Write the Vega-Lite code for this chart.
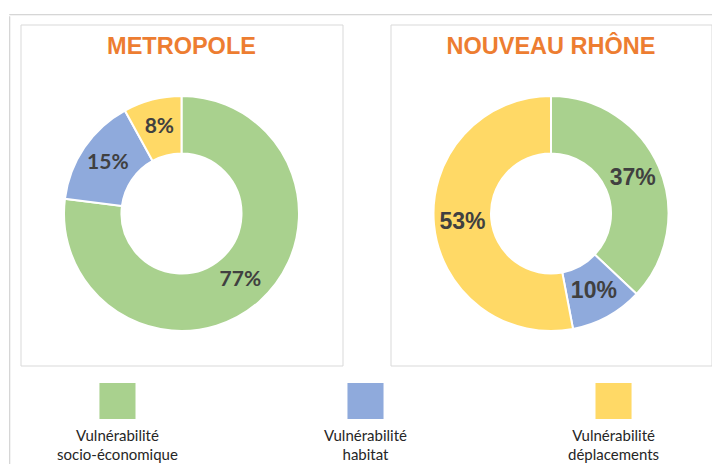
{
  "$schema": "https://vega.github.io/schema/vega-lite/v6.json",
  "padding": {"left": 8, "top": 13, "right": 0, "bottom": 0},
  "background": "white",
  "datasets": {
    "none": [],
    "shares": [
      {"zone": "METROPOLE", "cat": "Vulnérabilité socio-économique", "k": 1, "pct": 0.77},
      {"zone": "METROPOLE", "cat": "Vulnérabilité habitat", "k": 2, "pct": 0.15},
      {"zone": "METROPOLE", "cat": "Vulnérabilité déplacements", "k": 3, "pct": 0.08},
      {"zone": "NOUVEAU RHÔNE", "cat": "Vulnérabilité socio-économique", "k": 1, "pct": 0.37},
      {"zone": "NOUVEAU RHÔNE", "cat": "Vulnérabilité habitat", "k": 2, "pct": 0.10},
      {"zone": "NOUVEAU RHÔNE", "cat": "Vulnérabilité déplacements", "k": 3, "pct": 0.53}
    ],
    "legend": [
      {"cat": "Vulnérabilité socio-économique", "label": "Vulnérabilité\nsocio-économique"},
      {"cat": "Vulnérabilité habitat", "label": "Vulnérabilité\nhabitat"},
      {"cat": "Vulnérabilité déplacements", "label": "Vulnérabilité\ndéplacements"}
    ]
  },
  "spacing": 0,
  "vconcat": [
    {
      "width": 703,
      "height": 0.3,
      "view": {"stroke": "#d6d6d6", "strokeWidth": 1},
      "data": {"name": "none"},
      "mark": "point"
    },
    {
      "spacing": 9.5,
      "hconcat": [
        {
          "width": 0.3,
          "height": 450,
          "view": {"stroke": "#d6d6d6", "strokeWidth": 1},
          "data": {"name": "none"},
          "mark": "point"
        },
        {
          "spacing": 6.5,
          "vconcat": [
            {
              "width": 1,
              "height": 0.3,
              "view": {"stroke": null},
              "data": {"name": "none"},
              "mark": "point"
            },
            {
              "spacing": 46,
              "hconcat": [
                {
                  "width": 322,
                  "height": 341,
                  "view": {"stroke": "#d9d9d9", "strokeWidth": 1},
                  "title": {"text": "METROPOLE", "offset": -53, "baseline": "alphabetic", "fontSize": 23.5, "font": "Liberation Sans", "fontWeight": "bold", "color": "#ED7D31", "anchor": "middle", "frame": "group"},
                  "data": {"name": "shares"},
                  "transform": [{"filter": "datum.zone === 'METROPOLE'"}],
                  "encoding": {
                    "theta": {"field": "pct", "type": "quantitative", "stack": true},
                    "order": {"field": "k", "type": "quantitative"}
                  },
                  "layer": [
                    {
                      "mark": {"type": "arc", "innerRadius": 60, "outerRadius": 117.5, "stroke": "white", "strokeWidth": 2, "yOffset": 18.5},
                      "encoding": {
                        "color": {"field": "cat", "type": "nominal", "legend": null,
                          "scale": {"domain": ["Vulnérabilité socio-économique", "Vulnérabilité habitat", "Vulnérabilité déplacements"], "range": ["#A9D18E", "#8FAADC", "#FFD966"]}}
                      }
                    },
                    {
                      "mark": {"type": "text", "radius": 89, "yOffset": 18.5, "font": "Lato", "fontSize": 21, "fontWeight": "bold", "fill": "#404040", "baseline": "middle", "align": "center"},
                      "encoding": {"text": {"field": "pct", "type": "quantitative", "format": ".0%"}}
                    }
                  ]
                },
                {
                  "width": 321,
                  "height": 341,
                  "view": {"stroke": "#d9d9d9", "strokeWidth": 1},
                  "title": {"text": "NOUVEAU RHÔNE", "offset": -53, "baseline": "alphabetic", "fontSize": 23.5, "font": "Liberation Sans", "fontWeight": "bold", "color": "#ED7D31", "anchor": "middle", "frame": "group"},
                  "data": {"name": "shares"},
                  "transform": [{"filter": "datum.zone === 'NOUVEAU RHÔNE'"}],
                  "encoding": {
                    "theta": {"field": "pct", "type": "quantitative", "stack": true},
                    "order": {"field": "k", "type": "quantitative"}
                  },
                  "layer": [
                    {
                      "mark": {"type": "arc", "innerRadius": 60, "outerRadius": 117.5, "stroke": "white", "strokeWidth": 2, "yOffset": 18.5},
                      "encoding": {
                        "color": {"field": "cat", "type": "nominal", "legend": null,
                          "scale": {"domain": ["Vulnérabilité socio-économique", "Vulnérabilité habitat", "Vulnérabilité déplacements"], "range": ["#A9D18E", "#8FAADC", "#FFD966"]}}
                      }
                    },
                    {
                      "mark": {"type": "text", "radius": 89, "yOffset": 18.5, "font": "Liberation Sans", "fontSize": 23, "fontWeight": "bold", "fill": "#404040", "baseline": "middle", "align": "center"},
                      "encoding": {"text": {"field": "pct", "type": "quantitative", "format": ".0%"}}
                    }
                  ]
                }
              ]
            },
            {
              "width": 690,
              "height": 56,
              "view": {"stroke": null},
              "data": {"name": "legend"},
              "encoding": {
                "x": {"field": "cat", "type": "nominal", "axis": null,
                  "sort": ["Vulnérabilité socio-économique", "Vulnérabilité habitat", "Vulnérabilité déplacements"],
                  "scale": {"type": "point", "padding": 0.391}}
              },
              "layer": [
                {
                  "mark": {"type": "square", "size": 1300, "opacity": 1, "filled": true},
                  "encoding": {
                    "color": {"field": "cat", "type": "nominal", "legend": null,
                      "scale": {"domain": ["Vulnérabilité socio-économique", "Vulnérabilité habitat", "Vulnérabilité déplacements"], "range": ["#A9D18E", "#8FAADC", "#FFD966"]}}
                  }
                },
                {
                  "mark": {"type": "text", "dy": 35, "lineBreak": "\n", "font": "Lato", "fontSize": 15, "lineHeight": 18.5, "fill": "#262626", "baseline": "middle", "align": "center"},
                  "encoding": {"text": {"field": "label", "type": "nominal"}}
                }
              ]
            }
          ]
        }
      ]
    }
  ]
}
